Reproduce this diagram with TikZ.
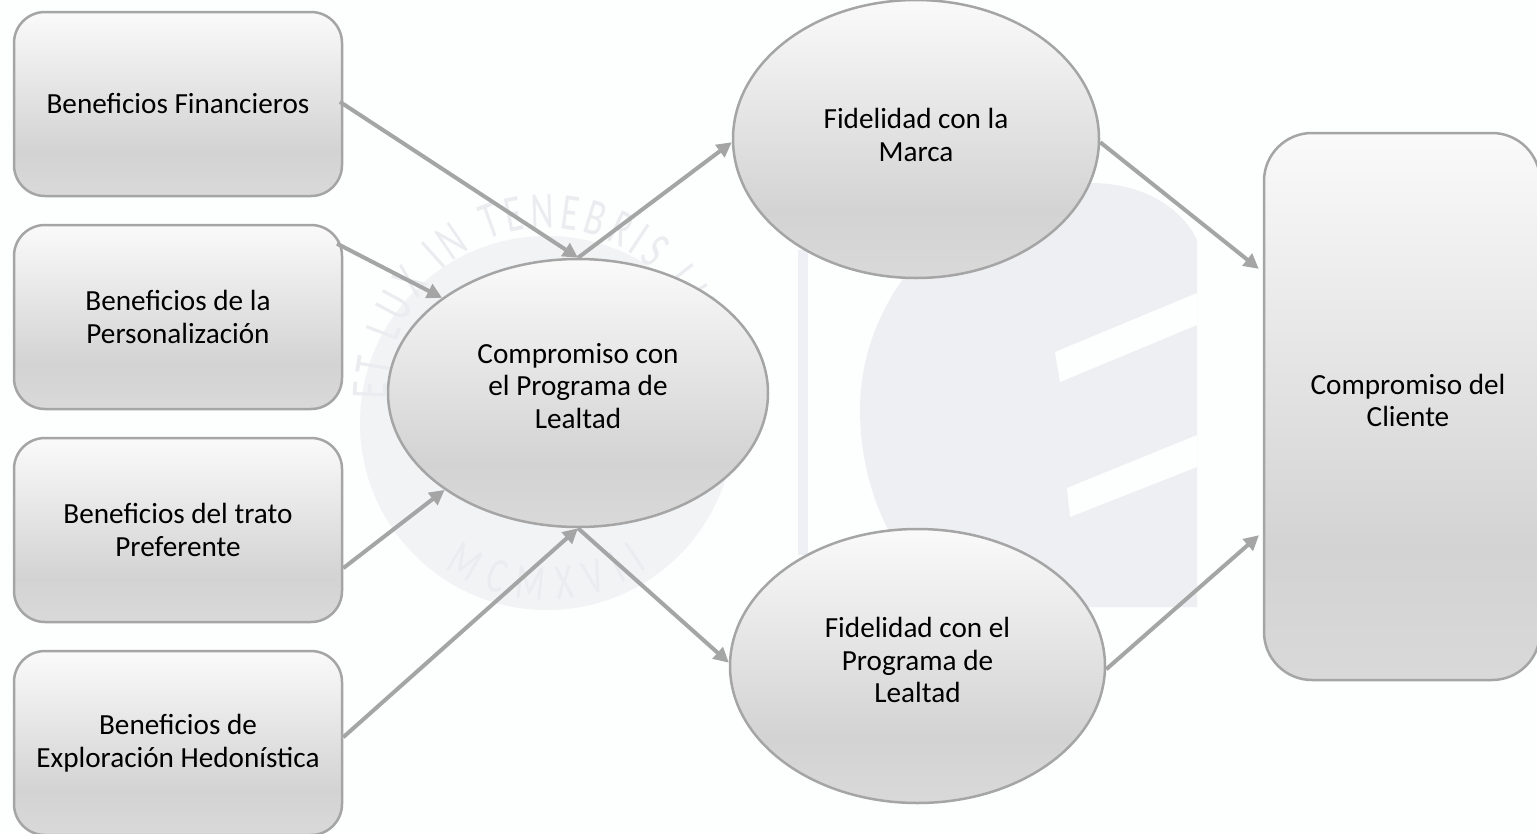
\documentclass[tikz,border=0pt]{standalone}
\usepackage{fontspec}
\setmainfont{Carlito}
\newfontfamily\wmfont[FakeStretch=0.68]{Carlito}
\usetikzlibrary{shapes.geometric,arrows.meta,decorations.text}
\definecolor{edgegrey}{HTML}{A5A5A5}
\definecolor{gradtop}{HTML}{FAFAFA}
\definecolor{gradmid}{HTML}{D3D3D3}
\definecolor{gradbot}{HTML}{D9D9D9}
\definecolor{wmbg}{HTML}{FDFEFE}
\definecolor{wmfill}{HTML}{EDEFF2}
\definecolor{wmdisc}{HTML}{F1F3F5}
\definecolor{wmtext}{HTML}{EAECEF}
\definecolor{wmbar}{HTML}{EEF0F6}
\pgfdeclareverticalshading{officegrad}{100bp}{color(0bp)=(gradbot); color(25bp)=(gradbot); color(37bp)=(gradmid); color(75bp)=(gradtop); color(100bp)=(gradtop)}
\tikzset{
  shapebase/.style={draw=edgegrey,line width=2.5pt,shading=officegrad,inner sep=0pt,font=\fontsize{29.2}{32.5}\selectfont,align=center,text=black},
  benefitbox/.style={shapebase,rectangle,rounded corners=31pt,minimum width=328pt,minimum height=184pt},
  oval/.style={shapebase,ellipse},
  ovaltext/.style={font=\fontsize{29.2}{32.5}\selectfont,align=center,text=black},
  conn/.style={edgegrey,line width=4pt,-{Triangle[length=15pt,width=15pt]}},
  wmletters/.style={decorate,decoration={text along path,text align=fit to path,text color=wmtext}}
}
\begin{document}
\begin{tikzpicture}[x=1pt,y=-1pt]
\useasboundingbox (0,0) rectangle (1537,833);
\clip (0,0) rectangle (1537,833);
\fill[wmbg] (0,0) rectangle (1537,833);
% watermark seal
\fill[wmdisc] (547,423) circle[radius=187pt];
\path[wmletters,decoration={text={|\wmfont\fontsize{52}{52}\selectfont|ET LUX IN TENEBRIS LUCET}}]
  (387,400) arc[start angle=180,end angle=5,x radius=160pt,y radius=172pt];
\path[wmletters,decoration={text={|\wmfont\fontsize{50}{50}\selectfont|MCMXVII}}]
  (445,568) arc[start angle=235,end angle=305,radius=177pt];
% watermark bar and block
\fill[wmbar] (798,250) rectangle (808,555);
\fill[wmfill] (1197,607) -- (960,607) .. controls (905,580) and (860,500) .. (860,410)
  .. controls (860,290) and (960,183) .. (1090,183) .. controls (1140,183) and (1180,205) .. (1197,240) -- cycle;
\fill[wmbg] (1055,352) -- (1197,293) -- (1197,325) -- (1060,382) -- cycle;
\fill[wmbg] (1067,488) -- (1197,435) -- (1197,467) -- (1070,517) -- cycle;
% nodes
\node[benefitbox] (b1) at (178,104) {Beneficios Financieros};
\node[benefitbox] (b2) at (178,317) {Beneficios de la\\Personalización};
\node[benefitbox] (b3) at (178,530) {Beneficios del trato\\Preferente};
\node[benefitbox] (b4) at (178,743) {Beneficios de\\Exploración Hedonística};
\node[oval,minimum width=380pt,minimum height=268pt,label={[ovaltext,yshift=7pt]center:Compromiso con\\el Programa de\\Lealtad}] (cp) at (578,393) {};
\node[oval,minimum width=366pt,minimum height=278pt,label={[ovaltext,yshift=4pt]center:Fidelidad con la\\Marca}] (fm) at (916,139) {};
\node[oval,minimum width=375pt,minimum height=274pt,label={[ovaltext,yshift=6pt]center:Fidelidad con el\\Programa de\\Lealtad}] (fp) at (917.5,666) {};
\node[shapebase,rectangle,rounded corners=48pt,minimum width=276pt,minimum height=547pt,label={[ovaltext,yshift=6pt,xshift=6pt]center:Compromiso del\\Cliente}] (cc) at (1402,406.5) {};
% connectors
\draw[conn,shorten <=-4pt] (b1.east) -- (cp.north);
\draw[conn,shorten <=-7pt] (b2.23) -- (cp.145);
\draw[conn] (b3.-13) -- (cp.216);
\draw[conn] (b4.2) -- (cp.south);
\draw[conn] (cp.north) -- (fm.181);
\draw[conn] (cp.south) -- (fp.179);
\draw[conn,shorten >=5pt] (fm.-1) -- (cc.136);
\draw[conn,shorten >=5pt] (fp.-1) -- (cc.222.5);
\end{tikzpicture}
\end{document}
